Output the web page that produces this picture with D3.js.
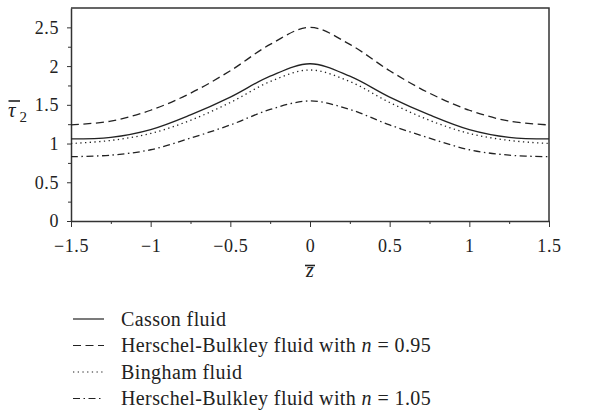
<!DOCTYPE html>
<meta charset="utf-8">
<style>
body { margin: 0; background: #fff; }
svg { display: block; }
text { font-family: "Liberation Serif", "DejaVu Serif", serif; fill: #222; }
.axis path, .axis line { stroke: #333; }
.curve { fill: none; stroke: #222; stroke-width: 1.3px; }
</style>
<svg width="612" height="415"></svg>
<script src="https://d3js.org/d3.v7.min.js"></script>
<script>

// values
const zVals = [-1.5, -1.25, -1, -0.75, -0.5, -0.25, 0, 0.25, 0.5, 0.75, 1, 1.25, 1.5];
const casson = [1.06, 1.08, 1.18, 1.37, 1.60, 1.87, 2.03, 1.87, 1.60, 1.37, 1.18, 1.08, 1.06];
const hb095 = [1.24, 1.29, 1.43, 1.65, 1.94, 2.28, 2.50, 2.28, 1.94, 1.65, 1.43, 1.29, 1.24];
const bingham = [1.00, 1.04, 1.13, 1.30, 1.53, 1.80, 1.95, 1.80, 1.53, 1.30, 1.13, 1.04, 1.00];
const hb105 = [0.83, 0.85, 0.92, 1.07, 1.24, 1.44, 1.55, 1.44, 1.24, 1.07, 0.92, 0.85, 0.83];

const xTicks = [-1.5, -1, -0.5, 0, 0.5, 1, 1.5];
const xTickLabels = ['\u22121.5', '\u22121', '\u22120.5', '0', '0.5', '1', '1.5'];
const yTicks = [0, 0.5, 1, 1.5, 2, 2.5];
const yTickLabels = ['0', '0.5', '1', '1.5', '2', '2.5'];
const minorX = [-1.25, -0.75, -0.25, 0.25, 0.75, 1.25];
const minorY = [0.25, 0.75, 1.25, 1.75, 2.25];

const series = [
  { name: 'Casson fluid', values: casson, dash: null },
  { name: 'Herschel-Bulkley fluid with ', n: '0.95', values: hb095, dash: '8,4.5' },
  { name: 'Bingham fluid', values: bingham, dash: '1.3,3.4' },
  { name: 'Herschel-Bulkley fluid with ', n: '1.05', values: hb105, dash: '7,3.5,1.5,3.5' }
];

const serif = '"Liberation Serif", "DejaVu Serif", serif';
const svg = d3.select('svg');
const mLeft = 71, mRight = 549, mTop = 8, mBottom = 221;

const x = d3.scaleLinear().domain([-1.5, 1.5]).range([mLeft, mRight]);
const y = d3.scaleLinear().domain([0, 2.75]).range([mBottom, mTop]);

// frame (top and right)
svg.append('path')
  .attr('d', `M${mLeft},${mTop}H${mRight}V${mBottom}`)
  .attr('fill', 'none')
  .attr('stroke', '#333')
  .attr('stroke-width', 1.5);

// minor ticks
svg.append('g').attr('class', 'axis')
  .attr('transform', `translate(0,${mBottom})`)
  .call(d3.axisBottom(x).tickValues(minorX).tickSize(3).tickFormat(''))
  .call(g => g.select('.domain').remove());
svg.append('g').attr('class', 'axis')
  .attr('transform', `translate(${mLeft},0)`)
  .call(d3.axisLeft(y).tickValues(minorY).tickSize(3).tickFormat(''))
  .call(g => g.select('.domain').remove());

// major axes
const xAxis = svg.append('g').attr('class', 'axis')
  .attr('transform', `translate(0,${mBottom})`)
  .call(d3.axisBottom(x).tickValues(xTicks).tickSize(6).tickSizeOuter(0)
    .tickFormat((d, i) => xTickLabels[i]));
xAxis.attr('font-family', serif);
xAxis.select('.domain').attr('stroke-width', 1.5);
xAxis.selectAll('text')
  .style('font-family', serif).attr('font-size', 18).attr('letter-spacing', 0.6)
  .attr('dy', 0).attr('y', 31).attr('fill', '#222');

const yAxis = svg.append('g').attr('class', 'axis')
  .attr('transform', `translate(${mLeft},0)`)
  .call(d3.axisLeft(y).tickValues(yTicks).tickSize(4).tickSizeOuter(0)
    .tickFormat((d, i) => yTickLabels[i]));
yAxis.attr('font-family', serif);
yAxis.select('.domain').attr('stroke-width', 1.5);
yAxis.selectAll('text')
  .style('font-family', serif).attr('font-size', 18).attr('letter-spacing', 0.6)
  .attr('x', -12).attr('dy', '0.33em').attr('fill', '#222');

// axis titles
const zl = svg.append('g').attr('transform', `translate(${x(0)},0)`);
zl.append('text').attr('x', 0).attr('y', 277).attr('text-anchor', 'middle')
  .attr('font-size', 20).attr('font-style', 'italic').text('z');
zl.append('line').attr('x1', -5).attr('x2', 5).attr('y1', 265.5).attr('y2', 265.5)
  .attr('stroke', '#222').attr('stroke-width', 1.6);

const tl = svg.append('g');
tl.append('text').attr('x', 8).attr('y', 117).attr('font-size', 21).attr('font-style', 'italic').text('\u03C4');
tl.append('text').attr('x', 19.5).attr('y', 121.5).attr('font-size', 15).text('2');
tl.append('line').attr('x1', 8.5).attr('x2', 20).attr('y1', 101).attr('y2', 101)
  .attr('stroke', '#222').attr('stroke-width', 1.6);

// curves
const line = d3.line()
  .x((d, i) => x(zVals[i]))
  .y(d => y(d))
  .curve(d3.curveCatmullRom.alpha(0.5));

svg.append('g').selectAll('path')
  .data(series)
  .join('path')
  .attr('class', 'curve')
  .attr('d', d => line(d.values))
  .attr('stroke-dasharray', d => d.dash);

// legend
const legend = svg.append('g').selectAll('g')
  .data(series)
  .join('g')
  .attr('transform', (d, i) => `translate(73,${319 + i * 26.5})`);

legend.append('line')
  .attr('x1', 0).attr('x2', 31)
  .attr('stroke', '#222').attr('stroke-width', 1.2)
  .attr('stroke-dasharray', d => d.dash);

const lt = legend.append('text')
  .attr('x', 48).attr('dy', '0.33em').attr('font-size', 20).attr('letter-spacing', 0.4);
lt.append('tspan').text(d => d.name);
lt.filter(d => d.n).append('tspan').attr('font-style', 'italic').text('n');
lt.filter(d => d.n).append('tspan').text(d => ' = ' + d.n);

</script>
